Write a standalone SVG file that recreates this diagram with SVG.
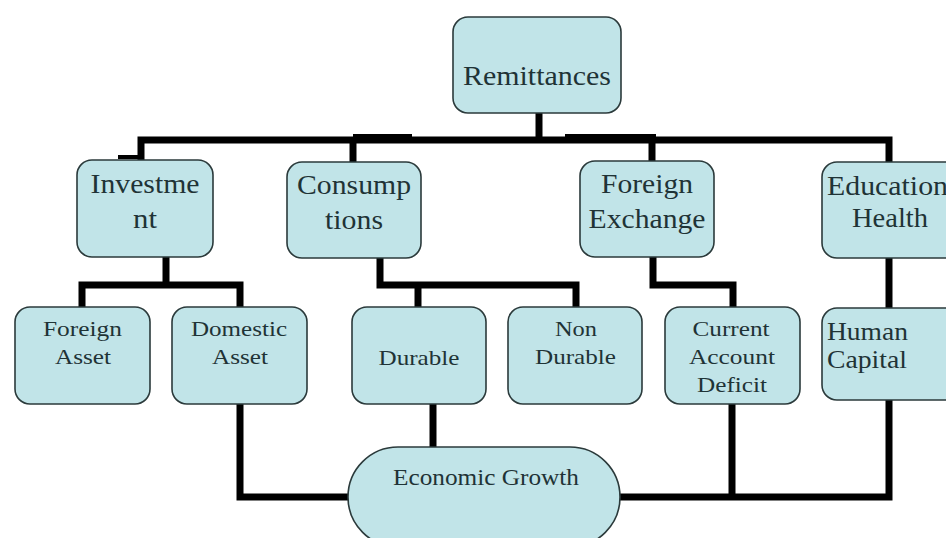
<svg xmlns="http://www.w3.org/2000/svg" width="946" height="538" viewBox="0 0 946 538">
<style>
.box{fill:#c1e4e8;stroke:#2b3a3b;stroke-width:1.6}
.big{font-size:28px}
.hc{font-size:26px}
.sm{font-size:21px}
.eg{font-size:24px}
.l{text-anchor:start}
.c{fill:none;stroke:#000;stroke-width:7;stroke-linejoin:miter;stroke-linecap:butt}
</style>
<rect width="946" height="538" fill="#fff"/>
<g id="connectors">
<path class="c" d="M539 113V140"/>
<path class="c" d="M141 160V140H889V162"/>
<path class="c" d="M353 140V162"/>
<path class="c" d="M652 140V161"/>
<path d="M353 135.5H412M565 135.5H656" stroke="#000" stroke-width="3" fill="none"/>
<path d="M118 157H141" stroke="#000" stroke-width="4" fill="none"/>
<path class="c" d="M166 257V285"/>
<path class="c" d="M82 307V285H240V307"/>
<path class="c" d="M380 258V285H576V307"/>
<path class="c" d="M418 285V307"/>
<path class="c" d="M653 257V285H733V307"/>
<path class="c" d="M889 258V308"/>
<path class="c" d="M240 404V497H349"/>
<path class="c" d="M433 401V447"/>
<path class="c" d="M619 497H889V400"/>
<path class="c" d="M732 404V497"/>
</g>
<g font-family="Liberation Serif, Times New Roman, serif" fill="#1f3336" text-anchor="middle">
<g id="remittances">
<rect class="box" x="453" y="17" width="168" height="96" rx="15"/>
<text class="big" x="537" y="85" textLength="148" lengthAdjust="spacingAndGlyphs">Remittances</text>
</g>
<g id="investment">
<rect class="box" x="77" y="160" width="136" height="97" rx="15"/>
<text class="big" x="145" y="193" textLength="109" lengthAdjust="spacingAndGlyphs">Investme</text>
<text class="big" x="145" y="228" textLength="24" lengthAdjust="spacingAndGlyphs">nt</text>
</g>
<g id="consumptions">
<rect class="box" x="287" y="162" width="134" height="96" rx="15"/>
<text class="big" x="354" y="194" textLength="114" lengthAdjust="spacingAndGlyphs">Consump</text>
<text class="big" x="354" y="229" textLength="58" lengthAdjust="spacingAndGlyphs">tions</text>
</g>
<g id="foreign-exchange">
<rect class="box" x="580" y="161" width="134" height="96" rx="15"/>
<text class="big" x="647" y="193" textLength="92" lengthAdjust="spacingAndGlyphs">Foreign</text>
<text class="big" x="647" y="228" textLength="117" lengthAdjust="spacingAndGlyphs">Exchange</text>
</g>
<g id="education-health">
<rect class="box" x="822" y="162" width="140" height="96" rx="15"/>
<text class="big l" x="827" y="195" textLength="121" lengthAdjust="spacingAndGlyphs">Education</text>
<text class="big" x="890" y="227" textLength="76" lengthAdjust="spacingAndGlyphs">Health</text>
</g>
<g id="foreign-asset">
<rect class="box" x="15" y="307" width="135" height="97" rx="15"/>
<text class="sm" x="82.5" y="336" textLength="79" lengthAdjust="spacingAndGlyphs">Foreign</text>
<text class="sm" x="83" y="364" textLength="56" lengthAdjust="spacingAndGlyphs">Asset</text>
</g>
<g id="domestic-asset">
<rect class="box" x="172" y="307" width="135" height="97" rx="15"/>
<text class="sm" x="239" y="336" textLength="96" lengthAdjust="spacingAndGlyphs">Domestic</text>
<text class="sm" x="240" y="364" textLength="56" lengthAdjust="spacingAndGlyphs">Asset</text>
</g>
<g id="durable">
<rect class="box" x="352" y="307" width="134" height="97" rx="15"/>
<text class="sm" x="419" y="365" textLength="81" lengthAdjust="spacingAndGlyphs">Durable</text>
</g>
<g id="non-durable">
<rect class="box" x="508" y="307" width="134" height="97" rx="15"/>
<text class="sm" x="576" y="336" textLength="42" lengthAdjust="spacingAndGlyphs">Non</text>
<text class="sm" x="575.5" y="364" textLength="81" lengthAdjust="spacingAndGlyphs">Durable</text>
</g>
<g id="current-account-deficit">
<rect class="box" x="665" y="307" width="135" height="97" rx="15"/>
<text class="sm" x="731" y="336" textLength="77" lengthAdjust="spacingAndGlyphs">Current</text>
<text class="sm" x="732" y="364" textLength="86" lengthAdjust="spacingAndGlyphs">Account</text>
<text class="sm" x="732" y="392" textLength="70" lengthAdjust="spacingAndGlyphs">Deficit</text>
</g>
<g id="human-capital">
<rect class="box" x="822" y="308" width="140" height="92" rx="15"/>
<text class="hc l" x="827" y="340" textLength="81" lengthAdjust="spacingAndGlyphs">Human</text>
<text class="hc l" x="827" y="368" textLength="80" lengthAdjust="spacingAndGlyphs">Capital</text>
</g>
<g id="economic-growth">
<rect class="box" x="348" y="447" width="272" height="100" rx="50"/>
<text class="eg" x="486" y="485" textLength="186" lengthAdjust="spacingAndGlyphs">Economic Growth</text>
</g>
</g>
</svg>
